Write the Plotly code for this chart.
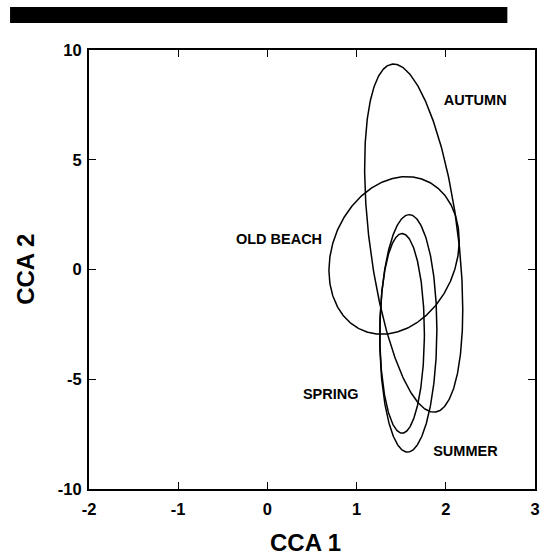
import numpy as np
import plotly.graph_objects as go

# Group ellipses (centre, spread along CCA1/CCA2, correlation)
groups = ["AUTUMN", "OLD BEACH", "SUMMER", "SPRING"]
center_x = [1.64, 1.42, 1.58, 1.51]
center_y = [1.43, 0.64, -2.91, -2.91]
spread_x = [0.55, 0.73, 0.32, 0.25]
spread_y = [7.93, 3.59, 5.41, 4.55]
corr = [-0.41, 0.19, 0.03, 0.0]

# Labels
label_text = ["AUTUMN", "OLD BEACH", "SPRING", "SUMMER"]
label_x = [2.33, 0.13, 0.71, 2.22]
label_y = [7.68, 1.32, -5.73, -8.32]

x_ticks = [-2, -1, 0, 1, 2, 3]
x_ticktext = ["-2", "-1", "0", "1", "2", "3"]
y_ticks = [-10, -5, 0, 5, 10]
y_ticktext = ["-10", "-5", "0", "5", "10"]

fig = go.Figure()
t = np.linspace(0, 2 * np.pi, 400)
for g, cx, cy, sx, sy, r in zip(groups, center_x, center_y, spread_x, spread_y, corr):
    ex = cx + sx * np.cos(t)
    ey = cy + sy * (r * np.cos(t) + np.sqrt(1 - r * r) * np.sin(t))
    fig.add_trace(go.Scatter(x=ex, y=ey, mode="lines", name=g,
                             line=dict(color="black", width=1.5),
                             hoverinfo="skip", showlegend=False))

fig.add_trace(go.Scatter(x=label_x, y=label_y, text=label_text, mode="text",
                         textfont=dict(family="Liberation Sans", size=14.5, color="black", weight="bold"),
                         showlegend=False, hoverinfo="skip"))

axis_common = dict(showgrid=False, zeroline=False, showline=True, linecolor="black",
                   linewidth=2, mirror="ticks", ticks="inside", ticklen=7, tickwidth=1.4,
                   tickcolor="black",
                   tickfont=dict(family="Liberation Sans", size=16.5, color="black", weight="bold"))

fig.update_xaxes(range=[-2, 3], tickvals=x_ticks, ticktext=x_ticktext,
                 ticklabelstandoff=4, **axis_common)
fig.update_yaxes(range=[-10, 10], tickvals=y_ticks, ticktext=y_ticktext,
                 ticklabelstandoff=2, **axis_common)

fig.update_layout(
    width=548, height=556,
    margin=dict(l=89, r=8, t=50, b=67),
    paper_bgcolor="white", plot_bgcolor="white",
    shapes=[dict(type="rect", xref="paper", yref="paper",
                 x0=-0.177, x1=0.938, y0=1.0615, y1=1.098,
                 fillcolor="black", line=dict(width=0))],
    annotations=[
        dict(text="CCA 1", xref="paper", yref="paper", x=0.4856, y=-0.123,
             showarrow=False, xanchor="center", yanchor="middle",
             font=dict(family="Liberation Sans", size=24, color="black", weight="bold")),
        dict(text="CCA 2", xref="paper", yref="paper", x=-0.144, y=0.501,
             showarrow=False, xanchor="center", yanchor="middle", textangle=-90,
             font=dict(family="Liberation Sans", size=24, color="black", weight="bold")),
    ],
)

fig.write_html("out.html")
